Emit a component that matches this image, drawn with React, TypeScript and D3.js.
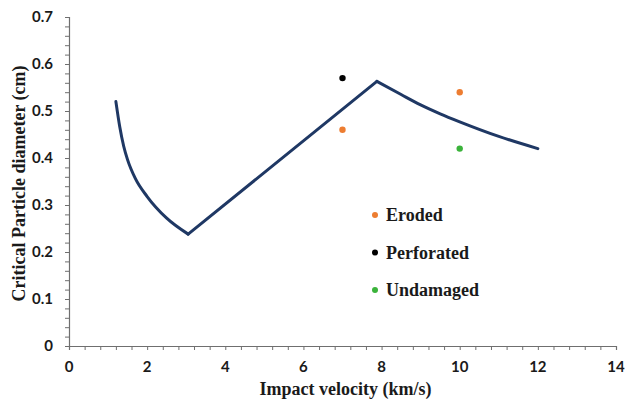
import React, { useEffect, useRef } from 'react';
import * as d3 from 'd3';

// critical particle diameter curve (three branches)
const lowVelocity = [1.2, 1.3, 1.4, 1.5, 1.7, 2.0, 2.5, 3.05];
const lowDiameter = [0.52, 0.466, 0.425, 0.396, 0.356, 0.318, 0.272, 0.238];
const midVelocity = [3.05, 7.88];
const midDiameter = [0.238, 0.563];
const highVelocity = [7.88, 8.5, 9.0, 9.5, 10.0, 11.0, 12.0];
const highDiameter = [0.563, 0.535, 0.513, 0.494, 0.477, 0.446, 0.42];

// test results
const erodedVelocity = [7, 10];
const erodedDiameter = [0.46, 0.54];
const perforatedVelocity = [7];
const perforatedDiameter = [0.57];
const undamagedVelocity = [10];
const undamagedDiameter = [0.42];

const legendLabels = ['Eroded', 'Perforated', 'Undamaged'];
const legendColors = ['#ED7D31', '#000000', '#3BB33B'];

const xTicks = [0, 2, 4, 6, 8, 10, 12, 14];
const yTicks = [0, 0.1, 0.2, 0.3, 0.4, 0.5, 0.6, 0.7];

export default function App() {
  const ref = useRef<SVGSVGElement>(null);

  useEffect(() => {
    const margin = { top: 17, right: 11, bottom: 56, left: 69 };
    const width = 627 - margin.left - margin.right;
    const height = 402 - margin.top - margin.bottom;

    const xScale = d3.scaleLinear().domain([0, 14]).range([0, width]);
    const yScale = d3.scaleLinear().domain([0, 0.7]).range([height, 0]);

    const root = d3.select(ref.current);
    root.selectAll('*').remove();

    const svg = root.append('g')
      .attr('transform', `translate(${margin.left},${margin.top})`);

    const axisColor = '#6f6f6f';
    const labelFont = 'Lato, "Open Sans", sans-serif';
    const titleFont = '"Liberation Serif", "Times New Roman", serif';

    // minor ticks
    const xMinor = d3.range(0, 14.001, 0.4);
    const yMinor = d3.range(0, 0.7001, 0.02);

    const xAxis = d3.axisBottom(xScale).tickValues(xMinor).tickSize(4).tickFormat(() => '');
    const yAxis = d3.axisLeft(yScale).tickValues(yMinor).tickSize(4).tickFormat(() => '');

    const gx = svg.append('g')
      .attr('transform', `translate(0,${height})`)
      .call(xAxis);
    const gy = svg.append('g').call(yAxis);

    [gx, gy].forEach(g => {
      g.select('.domain').attr('stroke', axisColor).attr('stroke-width', 1.2);
      g.selectAll('.tick line').attr('stroke', axisColor).attr('stroke-width', 1);
    });

    // tick labels
    svg.append('g').selectAll('text')
      .data(xTicks)
      .join('text')
      .attr('x', d => xScale(d))
      .attr('y', height + 26)
      .attr('text-anchor', 'middle')
      .style('font-family', labelFont)
      .style('font-weight', 'bold')
      .style('font-size', '15px')
      .attr('fill', '#1a1a1a')
      .text(d => d);

    svg.append('g').selectAll('text')
      .data(yTicks)
      .join('text')
      .attr('x', -16)
      .attr('y', d => yScale(d))
      .attr('dy', '0.35em')
      .attr('text-anchor', 'end')
      .style('font-family', labelFont)
      .style('font-weight', 'bold')
      .style('font-size', '15px')
      .attr('fill', '#1a1a1a')
      .text(d => d === 0 ? '0' : d.toFixed(1));

    // axis titles
    svg.append('text')
      .attr('x', xScale(7) + 3)
      .attr('y', height + 49)
      .attr('text-anchor', 'middle')
      .style('font-family', titleFont)
      .style('font-weight', 'bold')
      .style('font-size', '18px')
      .attr('fill', '#1a1a1a')
      .text('Impact velocity (km/s)');

    svg.append('text')
      .attr('transform', `translate(${-44},${yScale(0.35) + 2}) rotate(-90)`)
      .attr('text-anchor', 'middle')
      .style('font-family', titleFont)
      .style('font-weight', 'bold')
      .style('font-size', '18px')
      .attr('fill', '#1a1a1a')
      .text('Critical Particle diameter (cm)');

    // curve, drawn as three smooth branches
    const line = d3.line<{ x: number; y: number }>()
      .x(d => xScale(d.x))
      .y(d => yScale(d.y))
      .curve(d3.curveMonotoneX);

    const branches = [
      { xs: lowVelocity, ys: lowDiameter },
      { xs: midVelocity, ys: midDiameter },
      { xs: highVelocity, ys: highDiameter }
    ];
    branches.forEach(b => {
      svg.append('path')
        .datum(b.xs.map((v, i) => ({ x: v, y: b.ys[i] })))
        .attr('d', line)
        .attr('fill', 'none')
        .attr('stroke', '#1F3864')
        .attr('stroke-width', 3)
        .attr('stroke-linecap', 'round')
        .attr('stroke-linejoin', 'round');
    });

    // points
    const groups = [
      { xs: erodedVelocity, ys: erodedDiameter, color: legendColors[0] },
      { xs: perforatedVelocity, ys: perforatedDiameter, color: legendColors[1] },
      { xs: undamagedVelocity, ys: undamagedDiameter, color: legendColors[2] }
    ];
    groups.forEach(gr => {
      svg.append('g').selectAll('circle')
        .data(gr.xs.map((v, i) => ({ x: v, y: gr.ys[i] })))
        .join('circle')
        .attr('cx', d => xScale(d.x))
        .attr('cy', d => yScale(d.y))
        .attr('r', 3.2)
        .attr('fill', gr.color);
    });

    // legend
    const legend = svg.append('g')
      .attr('transform', `translate(${375 - margin.left},${215 - margin.top})`);
    legendLabels.forEach((label, i) => {
      const row = legend.append('g').attr('transform', `translate(0,${i * 37.5})`);
      row.append('circle')
        .attr('r', 3)
        .attr('fill', legendColors[i]);
      row.append('text')
        .attr('x', 11)
        .attr('dy', '0.35em')
        .style('font-family', titleFont)
        .style('font-weight', 'bold')
        .style('font-size', '18px')
        .attr('fill', '#1a1a1a')
        .text(label);
    });
  }, []);

  return (
    <svg
      ref={ref}
      width={627}
      height={402}
      style={{ position: 'fixed', left: 0, top: 0, background: '#fff' }}
    />
  );
}
